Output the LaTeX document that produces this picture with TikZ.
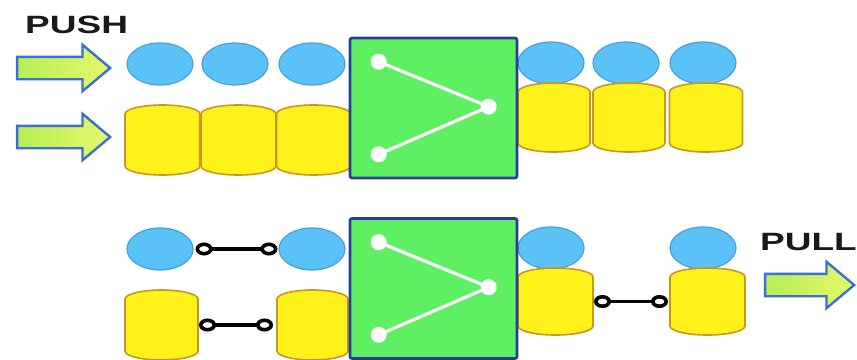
\documentclass[tikz,border=0pt]{standalone}
\usepackage{fontspec}
\usepackage{graphicx}
\setmainfont{Liberation Sans}
\usetikzlibrary{shapes.arrows,shapes.geometric,arrows.meta}

\definecolor{dotblue}{HTML}{5BC2F7}
\definecolor{dotedge}{HTML}{4A9FDB}
\definecolor{drumfill}{HTML}{FFF21A}
\definecolor{drumedge}{HTML}{C9961E}
\definecolor{boxfill}{HTML}{5EF062}
\definecolor{boxedge}{HTML}{2C3C96}
\definecolor{arrowlight}{HTML}{E4F86A}
\definecolor{arrowgreen}{HTML}{B8EE55}
\definecolor{arrowedge}{HTML}{3B6FD6}

\tikzset{
  dot/.style={ellipse, draw=dotedge, line width=1.2pt, fill=dotblue,
    minimum width=66pt, minimum height=42pt, inner sep=0pt},
  drumanchor/.style={inner sep=0pt, outer sep=0pt},
  drumline/.style={draw=drumedge, line width=1.6pt, fill=drumfill},
  switchbox/.style={draw=boxedge, line width=2.6pt, fill=boxfill, rounded corners=2pt,
    minimum width=167pt, minimum height=140pt, inner sep=0pt},
  port/.style={circle, fill=white, minimum size=16pt, inner sep=0pt},
  wire/.style={white, line width=3.2pt},
  flow/.style={single arrow, draw=arrowedge, line width=2.4pt,
    left color=arrowgreen, right color=arrowlight,
    inner xsep=0pt, inner ysep=10pt,
    single arrow head extend=12pt, single arrow tip angle=80,
    minimum height=93pt},
  ring/.tip={Circle[open,length=17pt,width=13pt,line width=3.6pt]},
  link/.style={line width=3.2pt, black, ring-ring},
  title/.style={font=\bfseries\fontsize{25}{25}\selectfont, text=black!90, inner sep=0pt}
}

% \yellowdrum{name}{cx}{cy}{width}{height}: a drum with elliptic ends
\newcommand\yellowdrum[5]{%
  \node[drumanchor, minimum width=#4pt, minimum height=#5pt] (#1) at (#2,-#3) {};
  \draw[drumline] ([yshift=-9pt]#1.north west)
    arc[start angle=180, end angle=0, x radius=0.5*#4pt, y radius=9pt]
    -- ([yshift=9pt]#1.south east)
    arc[start angle=0, end angle=-180, x radius=0.5*#4pt, y radius=9pt]
    -- cycle;}

% \mergebox{name}{cx}{cy}: green block with a merging junction inside
\newcommand\mergebox[3]{%
  \node[switchbox] (#1) at (#2,-#3) {};
  \node[port] (#1-a) at ([xshift=30pt,yshift=-25pt]#1.north west) {};
  \node[port] (#1-b) at ([xshift=140pt,yshift=-70pt]#1.north west) {};
  \node[port] (#1-c) at ([xshift=30pt,yshift=25pt]#1.south west) {};
  \draw[wire] (#1-a.center) -- (#1-b.center) -- (#1-c.center);}

\begin{document}
\begin{tikzpicture}[x=1pt,y=1pt]
\useasboundingbox (0,0) rectangle (857,-359);
\fill[white] (0,0) rectangle (857,-359);

% ---------- push ----------
\node[title, anchor=base west] (push) at (25,-33) {\scalebox{1.48}[1]{PUSH}};
\node[flow] (in1) at (57,-68) {};
\node[flow] (in2) at (57,-137) {};

\node[dot] (t1) at (160,-64) {};
\node[dot] (t2) at (235,-64) {};
\node[dot] (t3) at (312,-64) {};
\node[dot] (t4) at (551,-63) {};
\node[dot] (t5) at (626,-63) {};
\node[dot] (t6) at (703,-63) {};

\yellowdrum{d1}{162.5}{140}{75}{70}
\yellowdrum{d2}{238.5}{140}{75}{70}
\yellowdrum{d3}{313.5}{140}{74}{70}
\yellowdrum{d4}{554}{117.5}{72}{69}
\yellowdrum{d5}{629}{117.5}{72}{69}
\yellowdrum{d6}{706}{117.5}{73}{69}

\mergebox{sw1}{433.5}{108}

% ---------- pull ----------
\node[dot] (b1) at (160,-249) {};
\node[dot] (b2) at (312,-249) {};
\node[dot] (b3) at (551,-248) {};
\node[dot] (b4) at (703,-248) {};

\yellowdrum{e1}{161.5}{325}{73}{70}
\yellowdrum{e2}{312.5}{325}{71}{70}
\yellowdrum{e3}{555.5}{301.5}{75}{67}
\yellowdrum{e4}{707.5}{301.5}{75}{67}

\draw[link, shorten <=2pt, shorten >=1pt] (b1) -- (b2);
\draw[link, shorten <=1pt, shorten >=4pt] (e1) -- (e2);
\draw[link, shorten <=1pt, shorten >=2pt] (e3) -- (e4);

\mergebox{sw2}{433.5}{288.5}

\node[title, anchor=base west] (pull) at (760,-250) {\scalebox{1.48}[1]{PULL}};
\node[flow, minimum height=89pt] (out) at (803,-285) {};
\end{tikzpicture}
\end{document}
